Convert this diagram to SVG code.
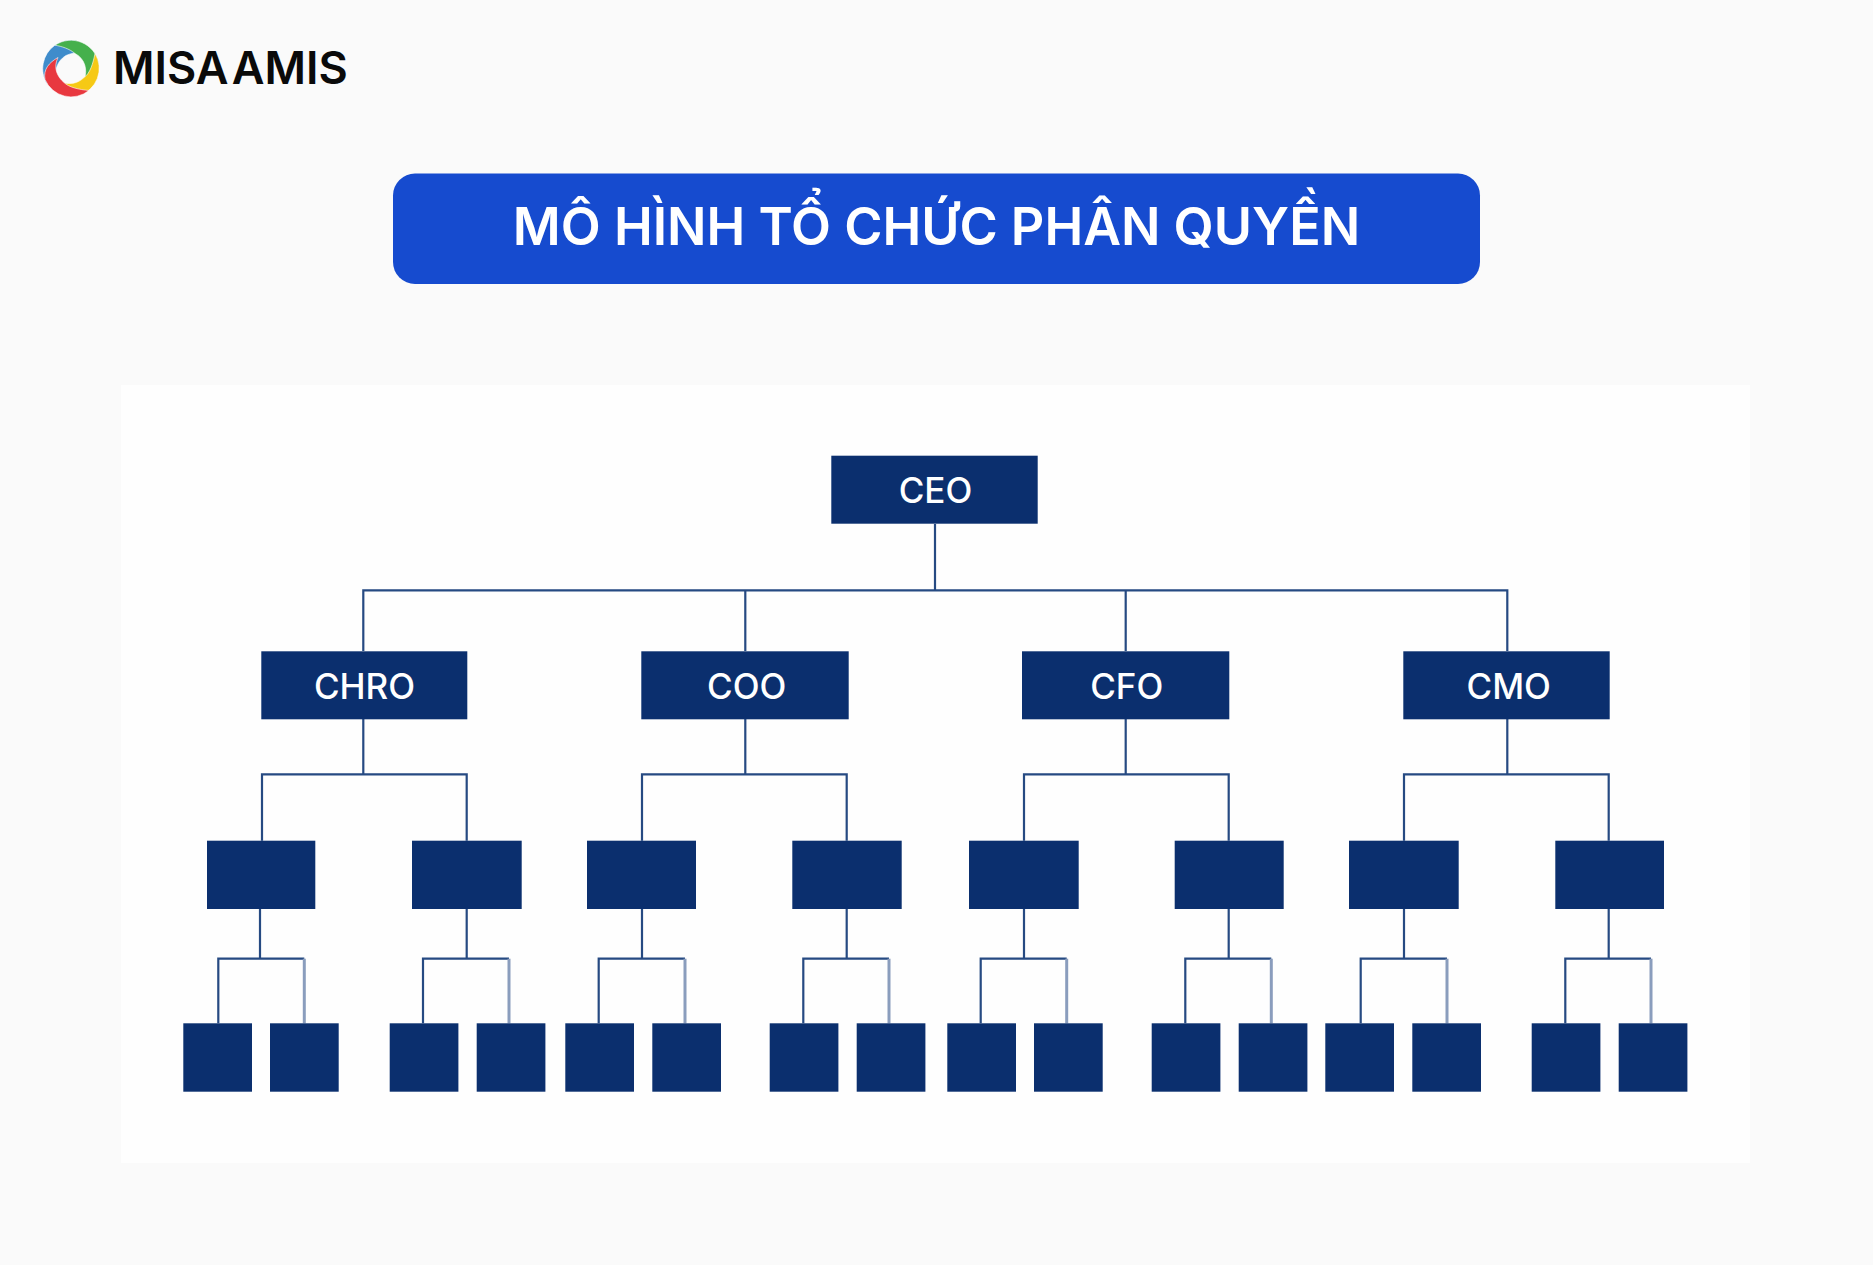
<svg xmlns="http://www.w3.org/2000/svg" width="1873" height="1265" viewBox="0 0 1873 1265">
<style>
.box{fill:#0b2f6e}
.ln{fill:none;stroke:#264a82;stroke-width:2.2}
.lt{fill:none;stroke:#8a9dbd;stroke-width:3}
.lb{font-family:"Inter","Liberation Sans",sans-serif;font-weight:500;font-size:35px;fill:#fff;text-anchor:middle}
</style>
<rect width="1873" height="1265" fill="#fafafa"/>
<rect x="121" y="385" width="1629" height="778" fill="#fefefe"/>
<g id="logo">
<g transform="translate(71 68.5)" stroke="#fff" stroke-width="0.6">
<path id="blade-blue" fill="#3f8ccb" d="M-27.8-5A28.3 28.3 0 0 1 5-28C16-24 18-18 24-13C14-17 4-17-5-13C-10-10-14-5-15 2C-21 6-25 12-24 16C-28 8-29 2-27.8-5Z"/>
<path id="blade-green" fill="#45b04c" d="M-16-23.3A28.3 28.3 0 0 1 27.8-5C28 3 22 8 13 11C17 2 14-10 4-15C-2-20-9-22-16-23.3Z"/>
<path id="blade-yellow" fill="#f6c915" d="M24-15A28.3 28.3 0 0 1 8 27C-1 28-7 23-11 13C-2 17 7 15 13 9C19 5 22-5 24-15Z"/>
<path id="blade-red" fill="#e8383f" d="M18 22A28.3 28.3 0 0 1-26 11C-28 1-22-6-13-11C-18-1-14 8-7 14C-2 19 8 21 18 22Z"/>
</g>
<text x="113" y="84" font-family="Inter,'Liberation Sans',sans-serif" font-weight="600" font-size="45" fill="#0a0a0a" word-spacing="-8">MISA AMIS</text>
</g>
<g id="title">
<rect x="393" y="173.5" width="1087" height="110.500" rx="22" fill="#164bcf"/>
<text x="936.500" y="245" font-family="Inter,'Liberation Sans',sans-serif" font-weight="600" font-size="52" fill="#fff" text-anchor="middle">MÔ HÌNH TỔ CHỨC PHÂN QUYỀN</text>
</g>
<g id="connectors">
<path class="ln" d="M935 524V590.300M363.300 651V590.300H1507.300V651M745.300 590.300V651M1125.700 590.300V651"/>
<path class="ln" d="M363.300 719V774.300M262 840.700V774.300H466.700V840.700"/>
<path class="ln" d="M745.300 719V774.300M642 840.700V774.300H846.700V840.700"/>
<path class="ln" d="M1125.700 719V774.300M1024 840.700V774.300H1228.700V840.700"/>
<path class="ln" d="M1507.300 719V774.300M1404 840.700V774.300H1608.700V840.700"/>
<path class="ln" d="M260 909V958.700M218.300 1023.300V958.700H304.300"/>
<path class="lt" d="M304.300 958.700V1023.300"/>
<path class="ln" d="M466.700 909V958.700M423 1023.300V958.700H509"/>
<path class="lt" d="M509 958.700V1023.300"/>
<path class="ln" d="M642 909V958.700M598.700 1023.300V958.700H685"/>
<path class="lt" d="M685 958.700V1023.300"/>
<path class="ln" d="M846.700 909V958.700M803.300 1023.300V958.700H889"/>
<path class="lt" d="M889 958.700V1023.300"/>
<path class="ln" d="M1024 909V958.700M980.700 1023.300V958.700H1066.700"/>
<path class="lt" d="M1066.700 958.700V1023.300"/>
<path class="ln" d="M1228.700 909V958.700M1185.300 1023.300V958.700H1271.300"/>
<path class="lt" d="M1271.300 958.700V1023.300"/>
<path class="ln" d="M1404 909V958.700M1360.700 1023.300V958.700H1447"/>
<path class="lt" d="M1447 958.700V1023.300"/>
<path class="ln" d="M1608.700 909V958.700M1565.300 1023.300V958.700H1651"/>
<path class="lt" d="M1651 958.700V1023.300"/>
</g>
<g id="ceo"><rect class="box" x="831.300" y="455.700" width="206.400" height="68"/><text class="lb" x="935.500" y="503">CEO</text></g>
<g id="chro"><rect class="box" x="261.300" y="651.300" width="206" height="68"/><text class="lb" x="364.500" y="699">CHRO</text></g>
<g id="coo"><rect class="box" x="641.300" y="651.300" width="207.400" height="68"/><text class="lb" x="746.700" y="699">COO</text></g>
<g id="cfo"><rect class="box" x="1022" y="651.300" width="207.300" height="68"/><text class="lb" x="1126.700" y="699">CFO</text></g>
<g id="cmo"><rect class="box" x="1403.300" y="651.300" width="206.400" height="68"/><text class="lb" x="1508.700" y="699">CMO</text></g>
<g id="m1"><rect class="box" x="207" y="840.700" width="108.300" height="68.300"/></g>
<g id="m2"><rect class="box" x="412" y="840.700" width="109.700" height="68.300"/></g>
<g id="m3"><rect class="box" x="587" y="840.700" width="109" height="68.300"/></g>
<g id="m4"><rect class="box" x="792.300" y="840.700" width="109.400" height="68.300"/></g>
<g id="m5"><rect class="box" x="969" y="840.700" width="109.700" height="68.300"/></g>
<g id="m6"><rect class="box" x="1174.700" y="840.700" width="109" height="68.300"/></g>
<g id="m7"><rect class="box" x="1349" y="840.700" width="109.700" height="68.300"/></g>
<g id="m8"><rect class="box" x="1555.300" y="840.700" width="108.700" height="68.300"/></g>
<g id="s1"><rect class="box" x="183.300" y="1023.300" width="68.700" height="68.400"/></g>
<g id="s2"><rect class="box" x="270" y="1023.300" width="68.700" height="68.400"/></g>
<g id="s3"><rect class="box" x="389.700" y="1023.300" width="68.700" height="68.400"/></g>
<g id="s4"><rect class="box" x="476.700" y="1023.300" width="68.700" height="68.400"/></g>
<g id="s5"><rect class="box" x="565.300" y="1023.300" width="68.700" height="68.400"/></g>
<g id="s6"><rect class="box" x="652.300" y="1023.300" width="68.700" height="68.400"/></g>
<g id="s7"><rect class="box" x="769.700" y="1023.300" width="68.700" height="68.400"/></g>
<g id="s8"><rect class="box" x="856.700" y="1023.300" width="68.700" height="68.400"/></g>
<g id="s9"><rect class="box" x="947.300" y="1023.300" width="68.700" height="68.400"/></g>
<g id="s10"><rect class="box" x="1034" y="1023.300" width="68.700" height="68.400"/></g>
<g id="s11"><rect class="box" x="1151.700" y="1023.300" width="68.700" height="68.400"/></g>
<g id="s12"><rect class="box" x="1238.700" y="1023.300" width="68.700" height="68.400"/></g>
<g id="s13"><rect class="box" x="1325.300" y="1023.300" width="68.700" height="68.400"/></g>
<g id="s14"><rect class="box" x="1412.300" y="1023.300" width="68.700" height="68.400"/></g>
<g id="s15"><rect class="box" x="1531.700" y="1023.300" width="68.700" height="68.400"/></g>
<g id="s16"><rect class="box" x="1618.700" y="1023.300" width="68.700" height="68.400"/></g>
</svg>
